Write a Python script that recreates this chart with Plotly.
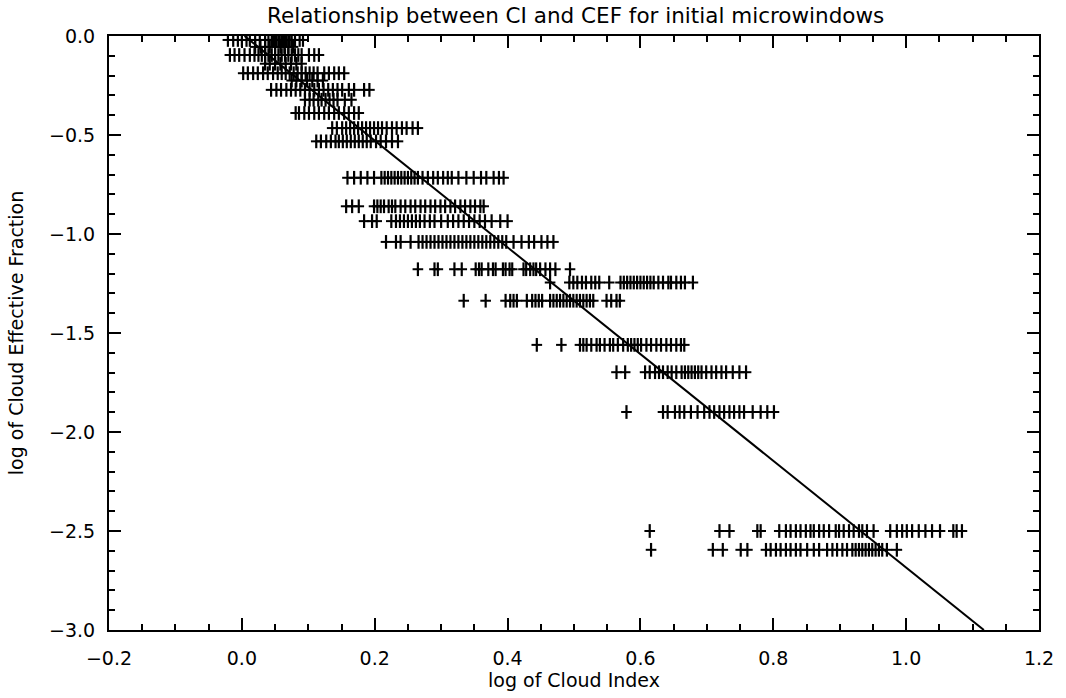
import plotly.graph_objects as go

# log of Cloud Effective Fraction levels (one per row of points)
cef_levels = [-0.02, -0.055, -0.096, -0.14, -0.188, -0.225, -0.272, -0.322,
              -0.389, -0.465, -0.532, -0.716, -0.86, -0.935, -1.04, -1.178,
              -1.245, -1.337, -1.56, -1.698, -1.899, -2.5, -2.595]

# log of Cloud Index for the microwindows in each row
ci_r00 = [-0.021, -0.013, -0.006, 0.0, 0.007, 0.012, 0.020, 0.027, 0.035, 0.040,
          0.045, 0.047, 0.050, 0.052, 0.055, 0.057, 0.060, 0.062, 0.065, 0.067,
          0.070, 0.072, 0.075, 0.080, 0.087, 0.092]
ci_r01 = [0.02, 0.028, 0.035, 0.042, 0.05, 0.058, 0.064, 0.07, 0.077]
ci_r02 = [-0.018, -0.011, -0.004, 0.004, 0.012, 0.019, 0.025, 0.030, 0.035, 0.040,
          0.045, 0.050, 0.055, 0.060, 0.065, 0.070, 0.075, 0.080, 0.085, 0.090,
          0.101, 0.109, 0.116]
ci_r03 = [0.035, 0.042, 0.05, 0.058, 0.066, 0.074, 0.082, 0.09]
ci_r04 = [0.002, 0.009, 0.017, 0.024, 0.032, 0.039, 0.047, 0.054, 0.060, 0.066,
          0.072, 0.078, 0.084, 0.090, 0.096, 0.102, 0.108, 0.114, 0.124, 0.131,
          0.139, 0.146, 0.154]
ci_r05 = [0.075, 0.082, 0.09, 0.098, 0.106, 0.114, 0.122]
ci_r06 = [0.044, 0.052, 0.059, 0.067, 0.074, 0.081, 0.088, 0.095, 0.102, 0.109,
          0.116, 0.123, 0.130, 0.137, 0.144, 0.151, 0.161, 0.169, 0.184, 0.192]
ci_r07 = [0.095, 0.102, 0.108, 0.115, 0.12, 0.126, 0.132, 0.138, 0.144, 0.155,
          0.165]
ci_r08 = [0.081, 0.086, 0.094, 0.101, 0.109, 0.116, 0.124, 0.131, 0.139, 0.146,
          0.154, 0.161, 0.169, 0.176]
ci_r09 = [0.136, 0.143, 0.151, 0.157, 0.163, 0.169, 0.175, 0.181, 0.187, 0.193,
          0.199, 0.205, 0.211, 0.218, 0.226, 0.233, 0.241, 0.248, 0.257, 0.265]
ci_r10 = [0.112, 0.119, 0.127, 0.134, 0.141, 0.146, 0.152, 0.158, 0.164, 0.170,
          0.176, 0.182, 0.188, 0.194, 0.202, 0.209, 0.217, 0.226, 0.235]
ci_r11 = [0.159, 0.169, 0.179, 0.189, 0.199, 0.210, 0.215, 0.220, 0.225, 0.230,
          0.235, 0.240, 0.245, 0.250, 0.255, 0.260, 0.265, 0.272, 0.280, 0.288,
          0.295, 0.303, 0.310, 0.316, 0.326, 0.338, 0.349, 0.360, 0.368, 0.379,
          0.387, 0.394]
ci_r12 = [0.157, 0.166, 0.176, 0.199, 0.204, 0.209, 0.214, 0.221, 0.226, 0.231,
          0.239, 0.246, 0.254, 0.261, 0.269, 0.276, 0.284, 0.291, 0.299, 0.306,
          0.314, 0.321, 0.329, 0.336, 0.344, 0.351, 0.359, 0.364]
ci_r13 = [0.184, 0.196, 0.203, 0.225, 0.232, 0.238, 0.244, 0.250, 0.256, 0.262,
          0.268, 0.275, 0.283, 0.290, 0.300, 0.310, 0.318, 0.326, 0.334, 0.342,
          0.350, 0.358, 0.366, 0.376, 0.389, 0.400]
ci_r14 = [0.217, 0.232, 0.239, 0.254, 0.266, 0.272, 0.278, 0.284, 0.290, 0.296,
          0.302, 0.308, 0.314, 0.320, 0.326, 0.332, 0.338, 0.344, 0.350, 0.356,
          0.362, 0.368, 0.374, 0.380, 0.386, 0.392, 0.398, 0.409, 0.421, 0.432,
          0.440, 0.451, 0.460, 0.469]
ci_r15 = [0.265, 0.290, 0.295, 0.320, 0.331, 0.352, 0.357, 0.361, 0.371, 0.378,
          0.382, 0.393, 0.397, 0.403, 0.407, 0.424, 0.428, 0.434, 0.439, 0.443,
          0.449, 0.457, 0.464, 0.472, 0.494]
ci_r16 = [0.464, 0.493, 0.499, 0.505, 0.512, 0.518, 0.526, 0.532, 0.538, 0.553,
          0.570, 0.575, 0.580, 0.585, 0.590, 0.595, 0.600, 0.605, 0.610, 0.615,
          0.620, 0.627, 0.634, 0.642, 0.646, 0.654, 0.661, 0.667, 0.679]
ci_r17 = [0.334, 0.367, 0.397, 0.404, 0.409, 0.414, 0.429, 0.437, 0.442, 0.447,
          0.452, 0.464, 0.469, 0.474, 0.479, 0.484, 0.489, 0.494, 0.499, 0.504,
          0.509, 0.514, 0.519, 0.524, 0.529, 0.549, 0.556, 0.564, 0.569]
ci_r18 = [0.444, 0.481, 0.509, 0.514, 0.519, 0.526, 0.534, 0.539, 0.546, 0.554,
          0.559, 0.566, 0.574, 0.581, 0.586, 0.591, 0.596, 0.601, 0.609, 0.616,
          0.624, 0.631, 0.639, 0.646, 0.654, 0.661, 0.666]
ci_r19 = [0.564, 0.577, 0.607, 0.614, 0.622, 0.628, 0.634, 0.641, 0.647, 0.654,
          0.662, 0.667, 0.672, 0.677, 0.682, 0.687, 0.692, 0.699, 0.707, 0.714,
          0.722, 0.729, 0.739, 0.749, 0.759]
ci_r20 = [0.579, 0.634, 0.641, 0.652, 0.659, 0.666, 0.676, 0.686, 0.696, 0.704,
          0.711, 0.719, 0.726, 0.734, 0.741, 0.749, 0.756, 0.769, 0.781, 0.791,
          0.801]
ci_r21 = [0.614, 0.719, 0.734, 0.776, 0.781, 0.809, 0.819, 0.826, 0.834, 0.841,
          0.849, 0.856, 0.861, 0.869, 0.876, 0.884, 0.894, 0.899, 0.906, 0.914,
          0.921, 0.929, 0.934, 0.941, 0.951, 0.976, 0.986, 0.994, 1.001, 1.009,
          1.019, 1.029, 1.039, 1.051, 1.071, 1.076, 1.084]
ci_r22 = [0.616, 0.709, 0.724, 0.751, 0.761, 0.789, 0.796, 0.804, 0.811, 0.819,
          0.826, 0.834, 0.841, 0.851, 0.861, 0.869, 0.881, 0.889, 0.896, 0.904,
          0.911, 0.919, 0.924, 0.929, 0.934, 0.939, 0.944, 0.949, 0.954, 0.959,
          0.964, 0.971, 0.986]

ci_rows = [ci_r00, ci_r01, ci_r02, ci_r03, ci_r04, ci_r05, ci_r06, ci_r07,
           ci_r08, ci_r09, ci_r10, ci_r11, ci_r12, ci_r13, ci_r14, ci_r15,
           ci_r16, ci_r17, ci_r18, ci_r19, ci_r20, ci_r21, ci_r22]

# straight-line relationship drawn across the plot
fit_ci = [0.004, 1.117]
fit_cef = [0.0, -3.0]

x_tick_vals = [-0.2, 0.0, 0.2, 0.4, 0.6, 0.8, 1.0, 1.2]
y_tick_vals = [-3.0, -2.5, -2.0, -1.5, -1.0, -0.5, 0.0]

xs, ys = [], []
for level, row in zip(cef_levels, ci_rows):
    xs.extend(row)
    ys.extend([level] * len(row))

FONT = "DejaVu Sans"
fig = go.Figure()

# plus-sign symbols: horizontal and vertical strokes
fig.add_trace(go.Scatter(
    x=xs, y=ys, mode="markers", hoverinfo="skip",
    marker=dict(symbol="line-ew", size=7.6, color="black",
                line=dict(color="black", width=2)),
))
fig.add_trace(go.Scatter(
    x=xs, y=ys, mode="markers", hoverinfo="skip",
    marker=dict(symbol="line-ns", size=9.8, color="black",
                line=dict(color="black", width=2.2)),
))
fig.add_trace(go.Scatter(
    x=fit_ci, y=fit_cef, mode="lines", hoverinfo="skip",
    line=dict(color="black", width=2),
))

axis_common = dict(
    showline=True, linecolor="black", linewidth=2, mirror="allticks",
    ticks="inside", ticklen=12, tickwidth=1.5, tickcolor="black",
    showgrid=False, zeroline=False, tickformat=".1f",
    tickfont=dict(family=FONT, size=19, color="black"),
    title_font=dict(family=FONT, size=19, color="black"),
)

fig.update_xaxes(
    range=[-0.2, 1.2], tickvals=x_tick_vals,
    minor=dict(dtick=0.05, ticks="inside", ticklen=6, tickwidth=1.5,
               tickcolor="black", showgrid=False),
    title_text="log of Cloud Index", title_standoff=4,
    ticklabelstandoff=10,
    **axis_common,
)
fig.update_yaxes(
    range=[-3.0, 0.0], tickvals=y_tick_vals,
    minor=dict(dtick=0.1, ticks="inside", ticklen=6, tickwidth=1.5,
               tickcolor="black", showgrid=False),
    title_text="log of Cloud Effective Fraction", title_standoff=20,
    ticklabelstandoff=8,
    **axis_common,
)

fig.update_layout(
    width=1066, height=698,
    margin=dict(l=109, r=24, t=36, b=66),
    paper_bgcolor="white", plot_bgcolor="white",
    showlegend=False,
    title=dict(text="Relationship between CI and CEF for initial microwindows",
               x=0.54, xanchor="center", y=0.988, yanchor="top",
               font=dict(family=FONT, size=21.5, color="black")),
)

fig.write_html("out.html")
